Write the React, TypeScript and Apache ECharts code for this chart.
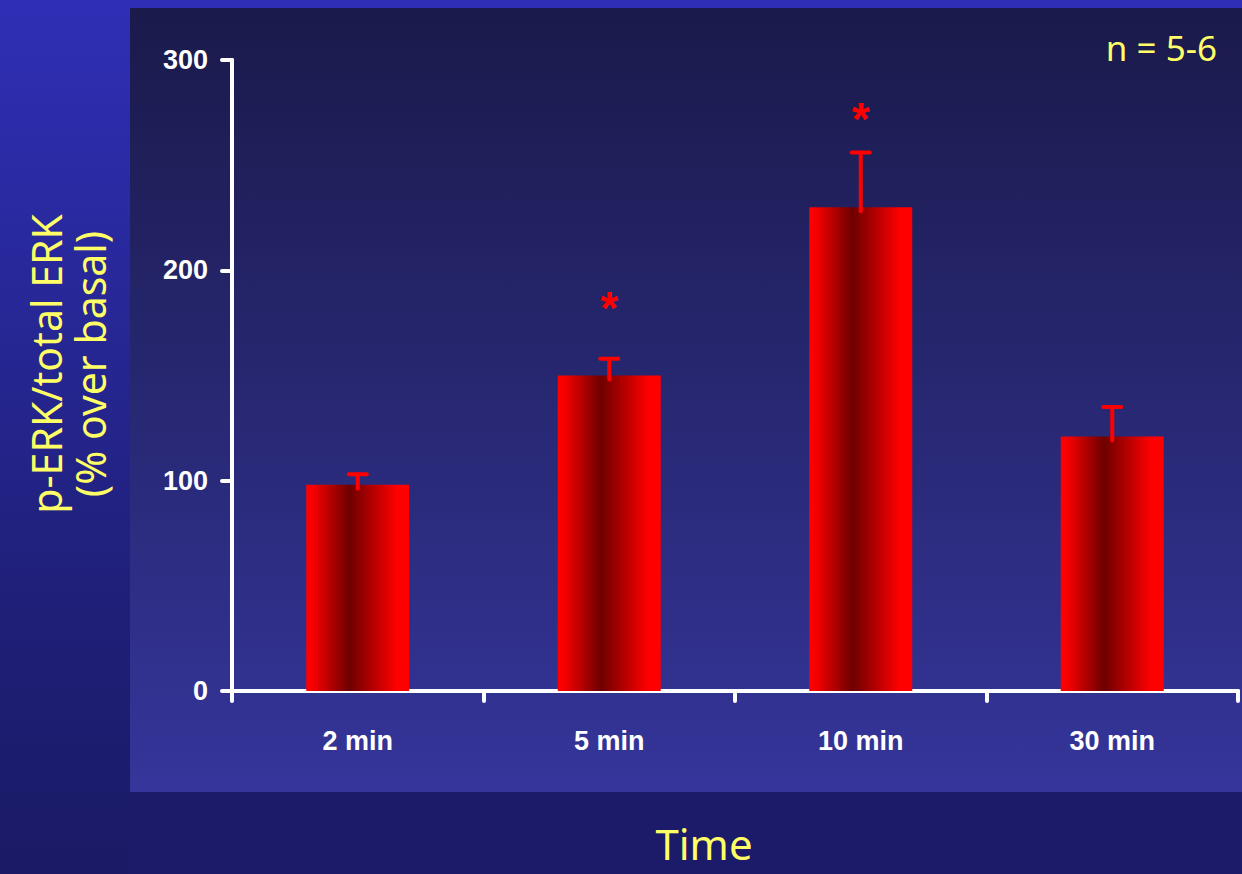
import React, { useEffect, useRef } from "react";
import * as echarts from "echarts";

// Time points and p-ERK/total ERK ratio (% over basal)
const categories = ["2 min", "5 min", "10 min", "30 min"];
const meanValues = [98, 150, 230, 121];
const errorValues = [5, 8, 26, 14];
// Height (in axis units) at which a significance star is printed; null = no star
const starLevels: (number | null)[] = [null, 182, 272, null];

const yTicks = { min: 0, max: 300, interval: 100 };

const COMIC = '"Comic Sans MS", "Noto Sans", sans-serif';
const ARIAL = '"Liberation Sans", Arial, sans-serif';
const YELLOW = "#ffff66";

export default function App() {
  const ref = useRef<HTMLDivElement>(null);

  useEffect(() => {
    if (!ref.current) return;
    const chart = echarts.init(ref.current, undefined, { renderer: "svg" });

    const barGradient = new echarts.graphic.LinearGradient(0, 0, 1, 0, [
      { offset: 0, color: "#ff0000" },
      { offset: 0.06, color: "#f80000" },
      { offset: 0.42, color: "#6e0000" },
      { offset: 0.88, color: "#ff0000" },
      { offset: 1, color: "#ff0000" },
    ]);

    chart.setOption({
      animation: false,
      graphic: [
        {
          type: "rect",
          z: -10,
          shape: { x: 0, y: 0, width: 1242, height: 874 },
          style: { fill: "#1b1b6a" },
        },
        {
          type: "rect",
          z: -9,
          shape: { x: 0, y: 0, width: 1242, height: 8 },
          style: { fill: "#2f2fb5" },
        },
        {
          type: "rect",
          z: -9,
          shape: { x: 0, y: 0, width: 130, height: 874 },
          style: {
            fill: new echarts.graphic.LinearGradient(0, 0, 0, 1, [
              { offset: 0, color: "#2f2fb6" },
              { offset: 0.7, color: "#1f1f78" },
              { offset: 1, color: "#1a1a66" },
            ]),
          },
        },
        {
          type: "rect",
          z: -8,
          shape: { x: 130, y: 8, width: 1112, height: 784 },
          style: {
            fill: new echarts.graphic.LinearGradient(0, 0, 0, 1, [
              { offset: 0, color: "#1a1a4b" },
              { offset: 1, color: "#35359b" },
            ]),
          },
        },
        {
          type: "text",
          x: 46,
          y: 364,
          rotation: Math.PI / 2,
          style: {
            text: "p-ERK/total ERK",
            fill: YELLOW,
            font: `41px ${COMIC}`,
            textAlign: "center",
            textVerticalAlign: "middle",
          },
        },
        {
          type: "text",
          x: 90,
          y: 364,
          rotation: Math.PI / 2,
          style: {
            text: "(% over basal)",
            fill: YELLOW,
            font: `41px ${COMIC}`,
            textAlign: "center",
            textVerticalAlign: "middle",
          },
        },
        {
          type: "text",
          x: 704,
          y: 843,
          style: {
            text: "Time",
            fill: YELLOW,
            font: `42px ${COMIC}`,
            textAlign: "center",
            textVerticalAlign: "middle",
          },
        },
        {
          type: "text",
          x: 1217,
          y: 47,
          style: {
            text: "n = 5-6",
            fill: YELLOW,
            font: `35px ${COMIC}`,
            textAlign: "right",
            textVerticalAlign: "middle",
          },
        },
      ],
      grid: { left: 232, right: 4, top: 60, bottom: 183, containLabel: false },
      xAxis: {
        type: "category",
        data: categories,
        boundaryGap: true,
        axisLine: { lineStyle: { color: "#ffffff", width: 4, cap: "round" } },
        axisTick: {
          show: true,
          alignWithLabel: false,
          length: 10,
          lineStyle: { color: "#ffffff", width: 4, cap: "round" },
        },
        axisLabel: {
          color: "#ffffff",
          fontFamily: ARIAL,
          fontWeight: "bold",
          fontSize: 27,
          margin: 36,
        },
      },
      yAxis: {
        type: "value",
        min: yTicks.min,
        max: yTicks.max,
        interval: yTicks.interval,
        splitLine: { show: false },
        axisLine: { show: true, lineStyle: { color: "#ffffff", width: 4, cap: "round" } },
        axisTick: {
          show: true,
          length: 10,
          lineStyle: { color: "#ffffff", width: 4, cap: "round" },
        },
        axisLabel: {
          color: "#ffffff",
          fontFamily: ARIAL,
          fontWeight: "bold",
          fontSize: 27,
          margin: 24,
        },
      },
      series: [
        {
          type: "bar",
          data: meanValues,
          barWidth: 103,
          itemStyle: { color: barGradient },
          z: 2,
        },
        {
          type: "custom",
          z: 3,
          data: meanValues.map((m, i) => [i, m, errorValues[i]]),
          renderItem: (_params: any, api: any) => {
            const i = api.value(0);
            const mean = api.value(1);
            const err = api.value(2);
            const base = api.coord([i, mean]);
            const top = api.coord([i, mean + err]);
            const style = { stroke: "#ff0000", lineWidth: 4, lineCap: "round" };
            return {
              type: "group",
              children: [
                {
                  type: "line",
                  shape: { x1: base[0], y1: base[1] + 4, x2: top[0], y2: top[1] },
                  style,
                },
                {
                  type: "line",
                  shape: { x1: top[0] - 9, y1: top[1], x2: top[0] + 9, y2: top[1] },
                  style,
                },
              ],
            };
          },
        },
        {
          type: "custom",
          z: 3,
          data: starLevels
            .map((s, i) => (s == null ? null : [i, s]))
            .filter((d) => d != null),
          renderItem: (_params: any, api: any) => {
            const p = api.coord([api.value(0), api.value(1)]);
            return {
              type: "text",
              x: p[0],
              y: p[1],
              style: {
                text: "*",
                fill: "#ff0000",
                font: `bold 46px ${ARIAL}`,
                textAlign: "center",
                textVerticalAlign: "middle",
              },
            };
          },
        },
      ],
    });

    return () => chart.dispose();
  }, []);

  return (
    <div
      ref={ref}
      style={{ position: "absolute", left: 0, top: 0, width: 1242, height: 874 }}
    />
  );
}
